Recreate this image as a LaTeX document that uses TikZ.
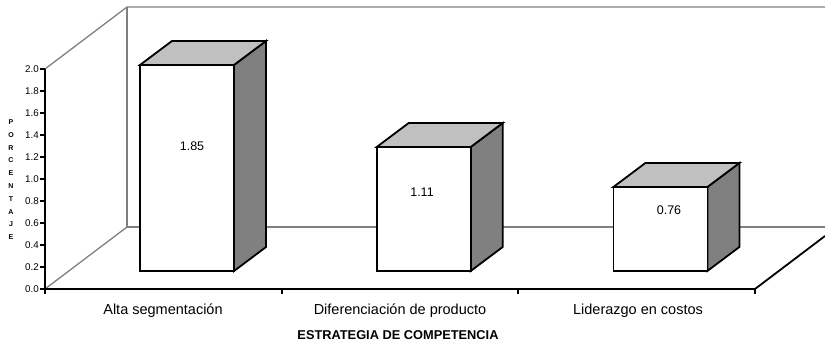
\documentclass[tikz,border=0pt]{standalone}
\usepackage{fontspec}
\setmainfont{Liberation Sans}
\definecolor{wallgray}{RGB}{128,128,128}
\definecolor{topgray}{RGB}{192,192,192}
\definecolor{sidegray}{RGB}{128,128,128}
\tikzset{
  wall/.style={draw=wallgray, line width=1.3pt},
  axisline/.style={draw=black, line width=1.8pt},
  barfront/.style={fill=white, draw=black, line width=1.8pt},
  bartop/.style={fill=topgray, draw=black, line width=1.8pt},
  barside/.style={fill=sidegray, draw=black, line width=1.8pt},
  ticklabel/.style={font=\fontsize{9.8}{10}\selectfont, inner sep=1pt},
  vallabel/.style={font=\fontsize{12.5}{13}\selectfont, inner sep=0pt},
  catlabel/.style={font=\fontsize{14.5}{15}\selectfont, inner sep=0pt},
  axistitle/.style={font=\bfseries\fontsize{12.8}{13}\selectfont, inner sep=0pt},
  yletter/.style={font=\bfseries\fontsize{7}{7}\selectfont, inner sep=0pt}
}
\begin{document}
\begin{tikzpicture}[x=1pt, y=-1pt]
  \useasboundingbox (0,0) rectangle (825,347);
  % back walls
  \draw[wall] (45,69) -- (127,7) -- (825,7);
  \draw[wall] (127,7) -- (127,227) -- (825,227);
  \draw[wall] (45,289) -- (127,227);
  % axes
  \draw[axisline] (45,69) -- (45,289) -- (755,289) -- (825,236);
  \foreach \k in {0,...,10} {
    \pgfmathsetmacro{\v}{0.2*\k}
    \draw[axisline] (40,289-22*\k) -- (45,289-22*\k);
    \node[ticklabel, anchor=east] (yt\k) at (40,289-22*\k)
      {\pgfmathprintnumber[fixed, fixed zerofill, precision=1, assume math mode=true]{\v}};
  }
  \foreach \x in {45,281.7,518.3,755}
    \draw[axisline] (\x,289) -- (\x,294);
  % bars
  \foreach \i/\top/\val/\lx/\ly in {0/65/1.85/192/146, 1/147/1.11/422/192, 2/187/0.76/669/210} {
    \pgfmathsetmacro{\xl}{140+236.7*\i}
    \pgfmathsetmacro{\xr}{\xl+94}
    \filldraw[barside] (\xr,271) -- (\xr,\top) -- ++(32,-24) -- (\xr+32,247) -- cycle;
    \filldraw[bartop] (\xl,\top) -- ++(32,-24) -- (\xr+32,\top-24) -- (\xr,\top) -- cycle;
    \filldraw[barfront] (\xl,\top) rectangle (\xr,271);
    \node[vallabel] (val\i) at (\lx,\ly) {\val};
  }
  % category labels
  \node[catlabel] (cat1) at (163,311) {Alta segmentación};
  \node[catlabel] (cat2) at (400,311) {Diferenciación de producto};
  \node[catlabel] (cat3) at (638,311) {Liderazgo en costos};
  \node[axistitle] (xtitle) at (398,335) {ESTRATEGIA DE COMPETENCIA};
  % y title
  \foreach \c [count=\n from 0] in {P,O,R,C,E,N,T,A,J,E}
    \node[yletter] (yl\n) at (11,122+12.8*\n) {\c};
\end{tikzpicture}
\end{document}
